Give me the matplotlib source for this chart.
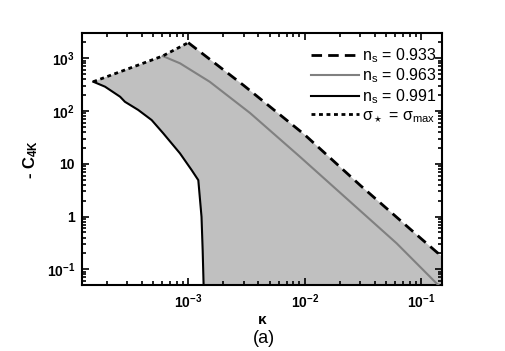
import matplotlib
matplotlib.use("Agg")
import matplotlib.pyplot as plt

plt.rcParams["font.family"] = ["Liberation Sans", "DejaVu Sans"]
plt.rcParams["mathtext.fontset"] = "custom"
plt.rcParams["mathtext.rm"] = "Liberation Sans"
plt.rcParams["mathtext.it"] = "Liberation Sans"
plt.rcParams["mathtext.bf"] = "Liberation Sans:bold"

# n_s = 0.933 (upper bound, dashed)
kappa_933 = [1.0e-3, 3.0e-3, 1.0e-2, 3.0e-2, 1.0e-1, 1.6e-1]
c4k_933 = [1980, 305, 35.5, 3.9, 0.38, 0.155]

# n_s = 0.963 (grey)
kappa_963 = [6.03e-4, 8.5e-4, 1.53e-3, 3.39e-3, 9.1e-3, 6.15e-2, 1.355e-1, 1.6e-1]
c4k_963 = [1106, 804, 359, 92, 13.6, 0.311, 0.054, 0.04]

# n_s = 0.991 (lower bound, solid black)
kappa_991 = [1.53e-4, 1.93e-4, 2.6e-4, 2.86e-4, 3.72e-4, 4.85e-4, 6.1e-4,
             8.49e-4, 1.07e-3, 1.22e-3, 1.30e-3, 1.33e-3, 1.37e-3]
c4k_991 = [360, 290, 187, 150, 105, 67.6, 37.9, 15.8, 7.6, 4.9, 0.99, 0.23, 0.02]

# sigma_* = sigma_max (dotted)
kappa_max = [1.53e-4, 6.03e-4, 1.0e-3]
c4k_max = [360, 1106, 1980]

xticks = [1e-3, 1e-2, 1e-1]
xtick_labels = [r"$\mathbf{10^{-3}}$", r"$\mathbf{10^{-2}}$", r"$\mathbf{10^{-1}}$"]
yticks = [1e-1, 1, 10, 1e2, 1e3]
ytick_labels = [r"$\mathbf{10^{-1}}$", "1", "10", r"$\mathbf{10^{2}}$", r"$\mathbf{10^{3}}$"]

fig = plt.figure(figsize=(5.05, 3.51), dpi=100)
ax = fig.add_axes([0.1624, 0.188, 0.7128, 0.718])

# shaded allowed region
poly_x = kappa_991 + [1.0, 1.0] + kappa_933[::-1] + kappa_max[::-1][1:]
poly_y = c4k_991 + [0.02, c4k_933[-1]] + c4k_933[::-1] + c4k_max[::-1][1:]
ax.fill(poly_x, poly_y, color="#c0c0c0", lw=0, zorder=1)

ax.plot(kappa_933, c4k_933, color="black", lw=2.0, dashes=(3.8, 2.2),
        label=r"n$_{\rm s}$ = 0.933", zorder=3)
ax.plot(kappa_963, c4k_963, color="#808080", lw=1.5,
        label=r"n$_{\rm s}$ = 0.963", zorder=3)
ax.plot(kappa_991, c4k_991, color="black", lw=1.5,
        label=r"n$_{\rm s}$ = 0.991", zorder=3)
ax.plot(kappa_max, c4k_max, color="black", lw=2.0, dashes=(1.4, 1.3),
        label=r"σ$_\star$ = σ$_{\rm max}$", zorder=3)

ax.set_xscale("log")
ax.set_yscale("log")
ax.set_xlim(1.225e-4, 0.1507)
ax.set_ylim(0.0504, 3020)
ax.set_xticks(xticks, labels=xtick_labels)
ax.set_yticks(yticks, labels=ytick_labels)
for lab in ax.get_yticklabels() + ax.get_xticklabels():
    lab.set_fontweight("bold")
    lab.set_fontsize(10)

ax.tick_params(which="both", direction="in", top=True, right=True, width=1.2)
ax.tick_params(which="major", length=5, pad=5)
ax.tick_params(which="minor", length=2.8)
for spine in ax.spines.values():
    spine.set_linewidth(1.5)

ax.set_xlabel("κ", fontweight="bold", fontsize=11, labelpad=2)
ax.set_ylabel(r"- C$_{\mathbf{4K}}$", fontweight="bold", fontsize=12, labelpad=5)
fig.text(0.523, 0.037, "(a)", ha="center", va="center", fontsize=13)

ax.legend(loc="upper right", bbox_to_anchor=(0.985, 0.948), frameon=False,
          fontsize=11.5, handlelength=3.0, handletextpad=0.2,
          labelspacing=0.12, borderaxespad=0, borderpad=0)

plt.savefig("out.png", dpi=100)
plt.close()
